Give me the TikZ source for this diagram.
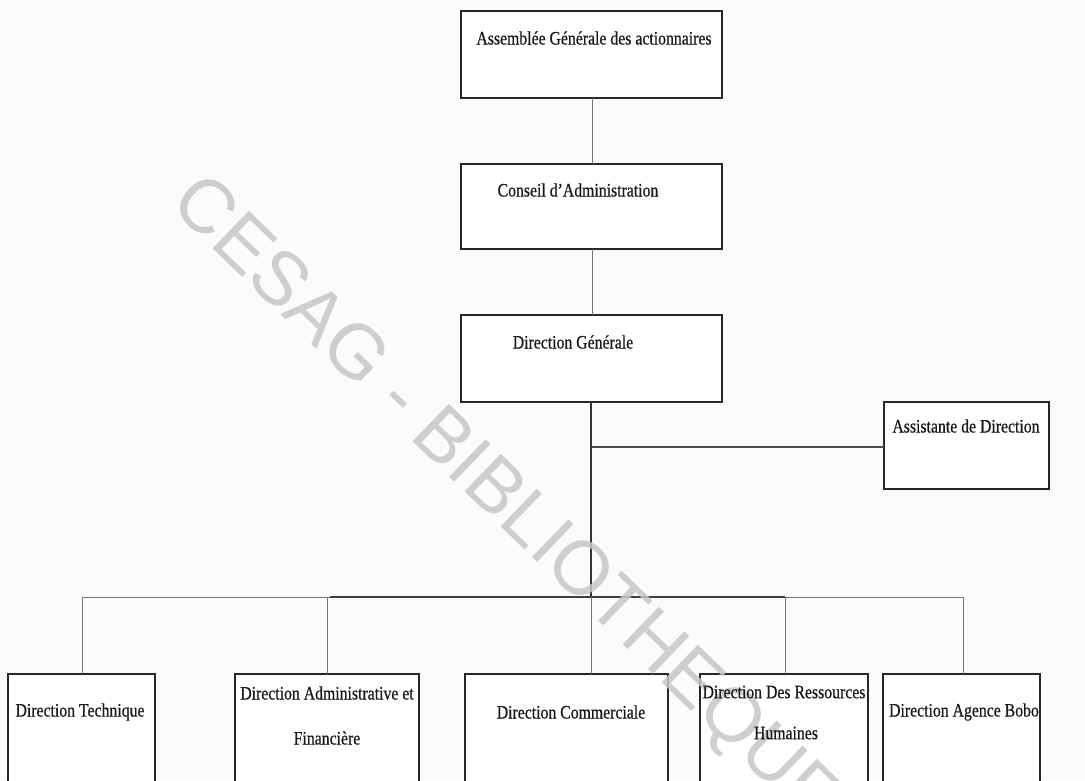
\documentclass[tikz,border=0pt]{standalone}
\usepackage{fontspec}
\setmainfont{Liberation Serif}
\newfontfamily\cond[FakeStretch=0.83,FakeBold=0.6]{Liberation Serif}
\newfontfamily\wmfont{Liberation Sans}
\begin{document}
\begin{tikzpicture}[x=1pt,y=-1pt,
  box/.style={draw=black!85,line width=1.3pt,fill=white,inner sep=0pt,outer sep=0pt},
  lbl/.style={font=\cond\fontsize{19}{26}\selectfont,text=black!90,align=center,inner sep=0pt},
  link/.style={draw=black!55,line width=0.8pt},
  trunk/.style={draw=black!80,line width=1.4pt}]
\fill[white!97!gray] (0,0) rectangle (1085,780);
\useasboundingbox (0,0) rectangle (1085,780);
\begin{scope}
\clip (0,0) rectangle (1085,780);
% connector points
\coordinate (bus) at (591,597);
\coordinate (assj) at (591,447);
\coordinate (busL) at (82,597);
\coordinate (busR) at (963,597);
% boxes
\node[box,minimum width=261pt,minimum height=87pt,anchor=north west] (ag) at (461,11) {};
\node[box,minimum width=261pt,minimum height=85pt,anchor=north west] (ca) at (461,164) {};
\node[box,minimum width=261pt,minimum height=87pt,anchor=north west] (dg) at (461,315) {};
\node[box,minimum width=165pt,minimum height=87pt,anchor=north west] (as) at (884,402) {};
\node[box,minimum width=147pt,minimum height=130pt,anchor=north west] (dt) at (8,674) {};
\node[box,minimum width=184pt,minimum height=130pt,anchor=north west] (daf) at (235,674) {};
\node[box,minimum width=203pt,minimum height=130pt,anchor=north west] (dc) at (465,674) {};
\node[box,minimum width=168pt,minimum height=130pt,anchor=north west] (drh) at (700,674) {};
\node[box,minimum width=157pt,minimum height=130pt,anchor=north west] (dab) at (883,674) {};
% connectors
\draw[link] (ag.south -| 592,0) -- (ca.north -| 592,0);
\draw[link] (ca.south -| 592,0) -- (dg.north -| 592,0);
\draw[link] (busL) -- (busR);
\draw[draw=black!75,line width=1.2pt] (330,597) -- (785,597);
\draw[draw=black!70,line width=1.1pt] (assj) -- (as.west |- assj);
\draw[trunk] (dg.south -| bus) -- (bus);
\draw[link] (busL) -- (dt.north -| busL);
\draw[link] (327,597) -- (daf.north -| 327,0);
\draw[link] (bus) -- (dc.north -| bus);
\draw[link] (785,597) -- (drh.north -| 785,0);
\draw[link] (busR) -- (dab.north -| busR);
% watermark
\node[rotate=-44,font=\wmfont\fontsize{76}{80}\selectfont,text=black!22,text opacity=0.85,inner sep=0pt] (wm) at (504,503)
  {CESAG - BIBLIOTHEQUE};
% labels
\node[lbl] (tag) at (594,38) {Assemblée Générale des actionnaires};
\node[lbl] (tca) at (578,190) {Conseil d’Administration};
\node[lbl] (tdg) at (573,342) {Direction Générale};
\node[lbl] (tas) at (966,426) {Assistante de Direction};
\node[lbl] (tdt) at (80,712) {Direction Technique};
\node[lbl] (tdaf) at (327,693) {Direction Administrative et};
\node[lbl] (tdaf2) at (327,738) {Financière};
\node[lbl] (tdc) at (571,712) {Direction Commerciale};
\node[lbl] (tdrh) at (784,692) {Direction Des Ressources};
\node[lbl] (tdrh2) at (786,733) {Humaines};
\node[lbl] (tdab) at (964,712) {Direction Agence Bobo};
\end{scope}
\end{tikzpicture}
\end{document}
